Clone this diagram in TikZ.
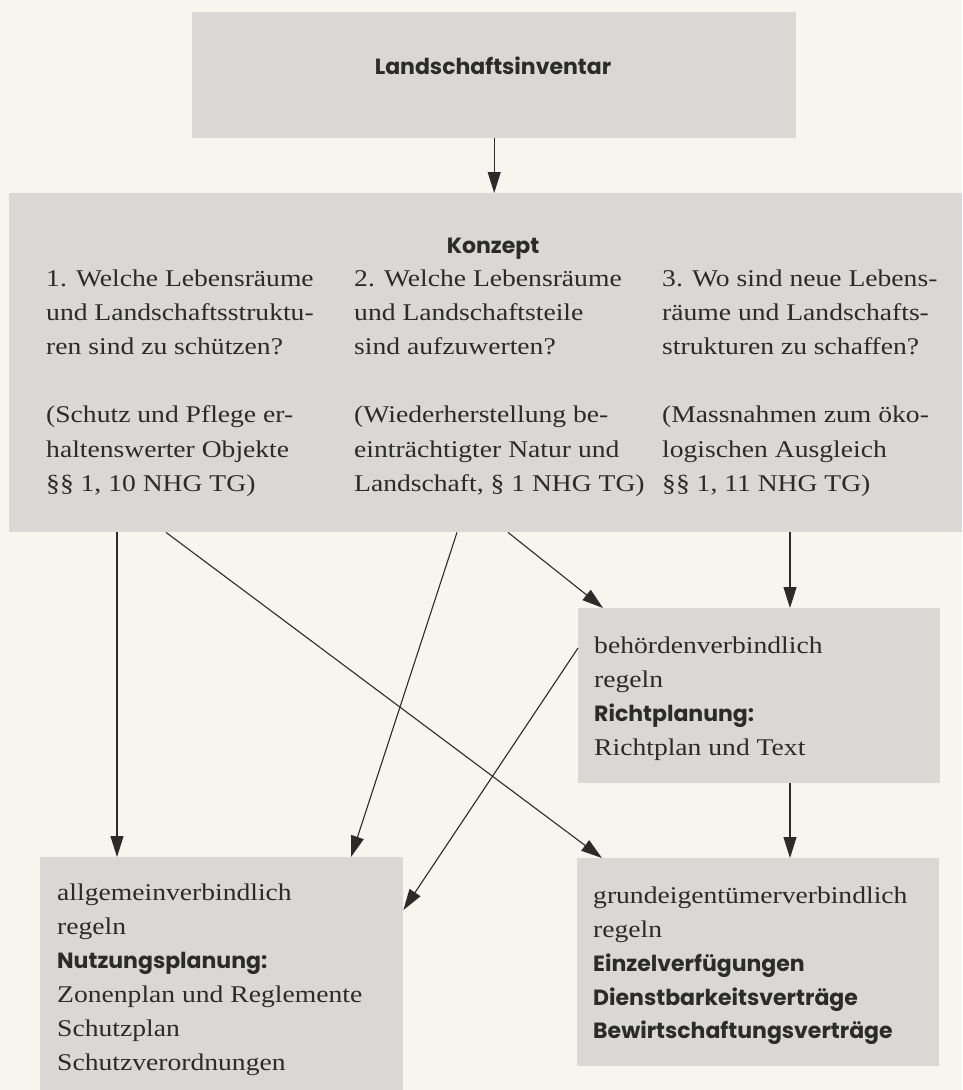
\documentclass[tikz,border=0pt]{standalone}
\usepackage{fontspec}
\setmainfont{Liberation Serif}[FakeStretch=1.15]
\newfontfamily\futura{Poppins}
\usetikzlibrary{arrows.meta}
\definecolor{paper}{HTML}{F6F5F0}
\definecolor{boxgray}{HTML}{D9D8D4}
\definecolor{ink}{HTML}{2B2B2B}
\begin{document}
\begin{tikzpicture}[x=1pt,y=-1pt,
  box/.style={fill=boxgray, draw=none, inner sep=0pt, anchor=north west},
  txt/.style={anchor=base west, inner sep=0pt, text=ink, font=\fontsize{24}{34}\selectfont},
  hd/.style={txt, font=\fontsize{22}{34}\selectfont\futura\bfseries},
  arr/.style={draw=ink, line width=1.1pt, -{Triangle[length=21pt,width=13pt]}}]
\useasboundingbox (0,0) rectangle (962,1090);
\fill[paper] (0,0) rectangle (962,1090);
% boxes
\node[box, minimum width=604pt, minimum height=126pt] (inv) at (192,12) {};
\node[box, minimum width=953pt, minimum height=339pt] (kon) at (9,193) {};
\node[box, minimum width=362pt, minimum height=175pt] (richt) at (578,608) {};
\node[box, minimum width=363pt, minimum height=233pt] (nutz) at (40,857) {};
\node[box, minimum width=362pt, minimum height=208pt] (grund) at (577,858) {};
% titles
\node[hd, anchor=base] (invt) at (493,74) {Landschaftsinventar};
\node[hd, anchor=base] (kont) at (493,253) {Konzept};
% Konzept column 1
\node[txt] (ka0) at (46,286) {1. Welche Lebensräume};
\node[txt] (ka1) at (46,320.2) {und Landschaftsstruktu-};
\node[txt] (ka2) at (46,354.4) {ren sind zu schützen?};
\node[txt] (kb0) at (46,422.8) {(Schutz und Pflege er-};
\node[txt] (kb1) at (46,457) {haltenswerter Objekte};
\node[txt] (kb2) at (46,491.2) {§§ 1, 10 NHG TG)};
% Konzept column 2
\node[txt] (kc0) at (354,286) {2. Welche Lebensräume};
\node[txt] (kc1) at (354,320.2) {und Landschaftsteile};
\node[txt] (kc2) at (354,354.4) {sind aufzuwerten?};
\node[txt] (kd0) at (354,422.8) {(Wiederherstellung be-};
\node[txt] (kd1) at (354,457) {einträchtigter Natur und};
\node[txt] (kd2) at (354,491.2) {Landschaft, § 1 NHG TG)};
% Konzept column 3
\node[txt] (ke0) at (662,286) {3. Wo sind neue Lebens-};
\node[txt] (ke1) at (662,320.2) {räume und Landschafts-};
\node[txt] (ke2) at (662,354.4) {strukturen zu schaffen?};
\node[txt] (kf0) at (662,422.8) {(Massnahmen zum öko-};
\node[txt] (kf1) at (662,457) {logischen Ausgleich};
\node[txt] (kf2) at (662,491.2) {§§ 1, 11 NHG TG)};
% Richtplanung
\node[txt] (r0) at (594,653) {behördenverbindlich};
\node[txt] (r1) at (594,687) {regeln};
\node[hd]  (r2) at (594,721) {Richtplanung:};
\node[txt] (r3) at (594,755) {Richtplan und Text};
% Nutzungsplanung
\node[txt] (n0) at (57,900) {allgemeinverbindlich};
\node[txt] (n1) at (57,934) {regeln};
\node[hd]  (n2) at (57,968) {Nutzungsplanung:};
\node[txt] (n3) at (57,1002) {Zonenplan und Reglemente};
\node[txt] (n4) at (57,1036) {Schutzplan};
\node[txt] (n5) at (57,1070) {Schutzverordnungen};
% Grundeigentuemer
\node[txt] (g0) at (593,903) {grundeigentümerverbindlich};
\node[txt] (g1) at (593,937) {regeln};
\node[hd]  (g2) at (593,971) {Einzelverfügungen};
\node[hd]  (g3) at (593,1005) {Dienstbarkeitsverträge};
\node[hd]  (g4) at (593,1038) {Bewirtschaftungsverträge};
% arrows
\draw[arr] (inv.south) -- (kon.north -| inv.south);
\draw[arr] (117,0 |- kon.south) -- (117,0 |- nutz.north);
\draw[arr] (166,0 |- kon.south) -- (602,0 |- grund.north);
\draw[arr] (457,0 |- kon.south) -- (351,0 |- nutz.north);
\draw[arr] (508,0 |- kon.south) -- (603,0 |- richt.north);
\draw[arr] (790,0 |- kon.south) -- (790,0 |- richt.north);
\draw[arr] (richt.west |- 0,648) -- (nutz.east |- 0,910);
\draw[arr] (790,0 |- richt.south) -- (790,0 |- grund.north);
\end{tikzpicture}
\end{document}
